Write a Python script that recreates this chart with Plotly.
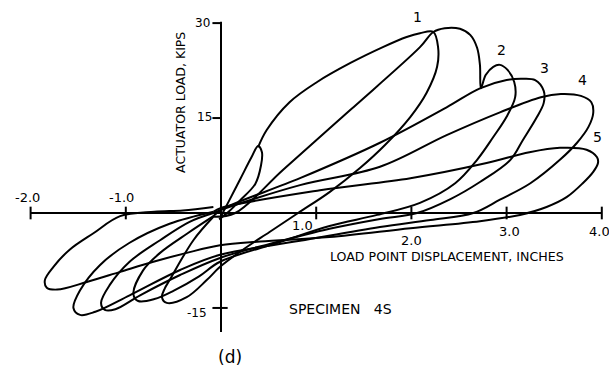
import plotly.graph_objects as go

# ---------------- data (inches, kips) ----------------
c0_x = [0.0, 0.08, 0.2, 0.32, 0.39, 0.43, 0.42, 0.36, 0.2, 0.08, -0.02]
c0_y = [-0.5, 1.8, 5.3, 8.8, 10.6, 9.6, 7.5, 4.6, 2.0, 0.2, -1.0]

c1_x = [0.39, 0.48, 0.72, 1.01, 1.36, 1.70, 1.95, 2.09, 2.23, 2.28, 2.27, 2.16, 1.99, 1.72,
        1.46, 1.14, 0.81, 0.51, 0.23, -0.01, -0.15, -0.36, -0.57, -0.62, -0.59, -0.54, -0.29, -0.08]
c1_y = [10.4, 13.1, 17.5, 20.7, 23.7, 26.2, 27.8, 28.4, 28.6, 26.2, 23.1, 19.0, 15.2, 10.7,
        7.1, 3.3, 0.0, -3.0, -5.8, -8.5, -10.6, -13.3, -14.2, -13.3, -11.9, -10.6, -4.3, -0.6]

c2_x = [-0.08, 0.15, 0.65, 1.36, 2.09, 2.23, 2.35, 2.51, 2.62, 2.69, 2.72, 2.73, 2.78, 2.86,
        2.93, 3.01, 3.08, 3.09, 3.0, 2.86, 2.69, 2.46, 2.09, 1.64, 1.14, 0.62, -0.01, -0.23,
        -0.5, -0.7, -0.87, -0.92, -0.82, -0.64, -0.35, -0.08]
c2_y = [-0.6, 0.0, 6.8, 16.3, 26.2, 28.6, 29.2, 29.1, 28.1, 26.1, 23.4, 19.7, 21.8, 23.1,
        23.4, 22.6, 20.7, 18.3, 15.2, 12.0, 8.4, 4.7, 1.6, -0.3, -2.05, -4.6, -7.7, -10.0,
        -12.3, -13.6, -13.9, -12.8, -9.1, -6.3, -3.2, -0.5]

c3_x = [-0.08, 0.0, 0.83, 1.67, 2.37, 2.72, 3.0, 3.15, 3.3, 3.39, 3.39, 3.32, 3.17, 3.04,
        2.72, 2.41, 2.06, 1.67, 1.14, 0.51, -0.01, -0.43, -0.85, -1.11, -1.22, -1.26, -1.17,
        -0.96, -0.64, -0.33, -0.08]
c3_y = [-0.5, 0.5, 5.5, 11.1, 16.7, 19.7, 21.0, 21.2, 21.0, 19.3, 17.4, 15.2, 11.5, 8.4,
        4.9, 2.2, 0.0, -0.95, -2.5, -4.9, -7.1, -9.8, -13.0, -15.2, -15.3, -14.2, -11.4,
        -7.7, -4.3, -1.4, 0.0]

c4_x = [-0.08, 0.0, 0.83, 1.67, 2.37, 2.93, 3.36, 3.57, 3.78, 3.89, 3.91, 3.86, 3.74, 3.56,
        3.25, 2.93, 2.65, 2.2, 1.67, 0.83, -0.01, -0.43, -0.96, -1.32, -1.48, -1.55, -1.48,
        -1.27, -0.96, -0.54, -0.08]
c4_y = [0.0, 0.5, 4.4, 7.3, 12.3, 15.9, 18.3, 18.8, 18.5, 17.5, 15.8, 13.6, 11.1, 8.4,
        4.7, 2.1, 0.0, -1.1, -2.2, -4.4, -6.6, -9.0, -13.0, -15.6, -16.1, -15.0, -12.2,
        -8.2, -4.7, -1.7, 0.2]

c5_x = [-0.08, 0.0, 1.04, 1.99, 2.79, 3.24, 3.56, 3.84, 3.95, 3.96, 3.91, 3.80, 3.63, 3.42,
        3.14, 2.72, 1.99, 1.14, 0.41, -0.01, -0.36, -0.71, -1.06, -1.41, -1.72, -1.83, -1.85,
        -1.76, -1.59, -1.34, -1.06, -0.7, -0.4, -0.08]
c5_y = [0.2, 0.8, 3.6, 5.5, 7.9, 9.6, 10.3, 10.0, 8.8, 7.9, 6.5, 4.7, 2.5, 0.95,
        -0.3, -1.3, -2.4, -3.8, -4.5, -5.1, -6.3, -7.7, -9.3, -10.9, -12.1, -11.8, -10.6,
        -8.5, -5.8, -3.2, -0.5, 0.2, 0.4, 0.95]

cycles = [(c0_x, c0_y), (c1_x, c1_y), (c2_x, c2_y), (c3_x, c3_y), (c4_x, c4_y), (c5_x, c5_y)]

x_ticks = [-2.0, -1.0, 1.0, 2.0, 3.0, 4.0]
x_tick_labels = ["-2.0", "-1.0", "1.0", "2.0", "3.0", "4.0"]
x_label_pos = [(-2.03, 2.5), (-1.04, 2.5), (0.86, -2.0), (2.0, -4.3), (3.03, -3.0), (3.98, -3.0)]
y_ticks = [30, 15, -15]
y_tick_labels = ["30", "15", "-15"]
y_label_pos = [(-0.19, 30.0), (-0.17, 15.2), (-0.25, -15.8)]

cycle_labels = ["1", "2", "3", "4", "5"]
cycle_label_pos = [(2.06, 31.0), (2.95, 25.7), (3.40, 22.9), (3.80, 21.0), (3.95, 12.0)]

FONT = "DejaVu Sans"
INK = "black"

fig = go.Figure()
for cx, cy in cycles:
    fig.add_trace(go.Scatter(x=cx, y=cy, mode="lines",
                             line=dict(color=INK, width=2, shape="spline", smoothing=1.0),
                             hoverinfo="skip", showlegend=False))

# axes drawn through the origin
fig.add_shape(type="line", x0=-2.0, x1=4.0, y0=0, y1=0, line=dict(color=INK, width=2))
fig.add_shape(type="line", x0=0, x1=0, y0=-18.8, y1=30.2, line=dict(color=INK, width=2))
for t in x_ticks:
    fig.add_shape(type="line", x0=t, x1=t, y0=-1.0, y1=1.0, line=dict(color=INK, width=2))
for t in y_ticks:
    x1 = 0.07 if t < 0 else 0.0
    fig.add_shape(type="line", x0=-0.09, x1=x1, y0=t, y1=t, line=dict(color=INK, width=2))

ann = []
for lab, (px, py) in zip(x_tick_labels, x_label_pos):
    ann.append(dict(x=px, y=py, text=lab, showarrow=False, font=dict(size=13, family=FONT, color=INK)))
for lab, (px, py) in zip(y_tick_labels, y_label_pos):
    ann.append(dict(x=px, y=py, text=lab, showarrow=False, font=dict(size=12, family=FONT, color=INK)))
for lab, (px, py) in zip(cycle_labels, cycle_label_pos):
    ann.append(dict(x=px, y=py, text=lab, showarrow=False, font=dict(size=14, family=FONT, color=INK)))

ann.append(dict(x=2.37, y=-6.95, text="LOAD POINT DISPLACEMENT, INCHES", showarrow=False,
                font=dict(size=12.6, family=FONT, color=INK)))
ann.append(dict(x=-0.42, y=17.4, text="ACTUATOR LOAD, KIPS", showarrow=False, textangle=-90,
                font=dict(size=12.5, family=FONT, color=INK)))
ann.append(dict(x=1.25, y=-15.2, text="SPECIMEN&nbsp;&nbsp;&nbsp;4S", showarrow=False,
                font=dict(size=14, family=FONT, color=INK)))
ann.append(dict(x=0.09, y=-22.8, text="(d)", showarrow=False, font=dict(size=17, family=FONT, color=INK)))

fig.update_layout(
    width=609, height=367, margin=dict(l=0, r=0, t=0, b=0),
    paper_bgcolor="white", plot_bgcolor="white",
    xaxis=dict(range=[-221 / 95.2, (609 - 221) / 95.2], visible=False, fixedrange=True),
    yaxis=dict(range=[-(367 - 213) / 6.33, 213 / 6.33], visible=False, fixedrange=True),
    annotations=ann,
)

fig.write_html("out.html")
